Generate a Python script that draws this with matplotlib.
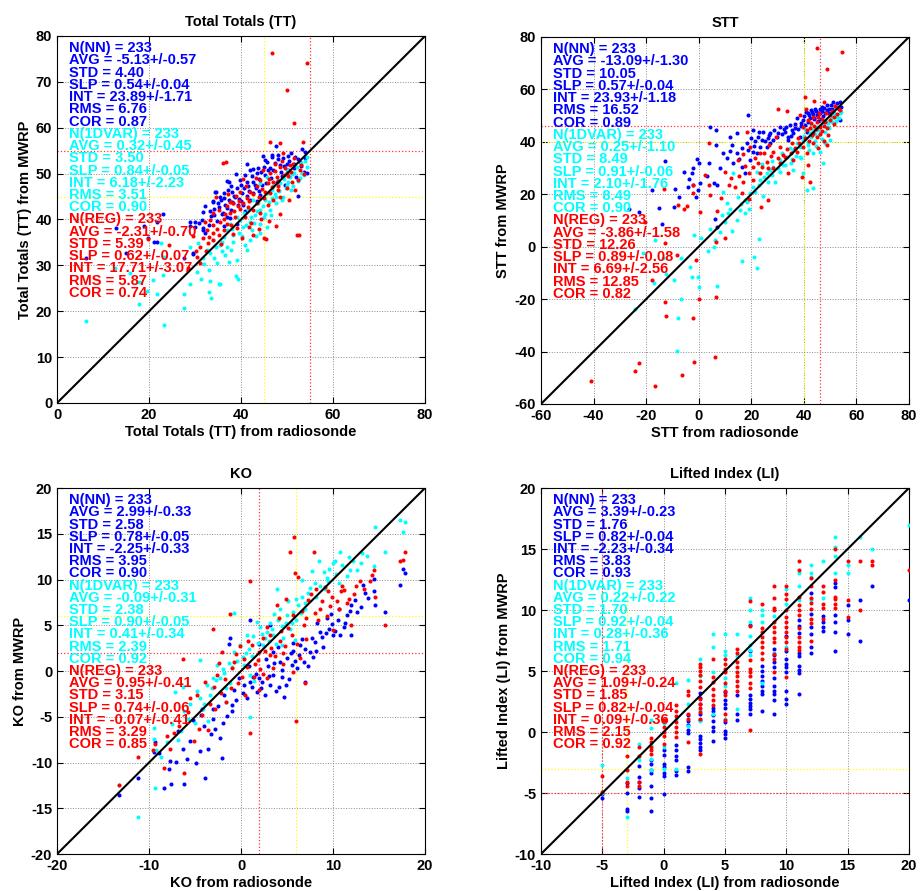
import matplotlib
matplotlib.use('Agg')
import matplotlib.pyplot as plt

plt.rcParams['font.family'] = ['Liberation Sans', 'DejaVu Sans']
plt.rcParams['font.weight'] = 'bold'
plt.rcParams['axes.unicode_minus'] = False

BLUE = (0, 0, 1)
CYAN = (0, 1, 1)
RED = (1, 0, 0)

# ---------------- Total Totals (TT) ----------------
tt_nn = [(6.3, 31.5), (12.9, 38.1), (15.0, 32.6), (18.9, 38.5), (19.7, 36.0), (21.0, 35.2), (21.7, 35.0),
         (21.7, 39.4), (23.1, 41.2), (27.5, 31.5), (29.5, 32.6), (29.6, 32.5), (28.8, 38.5), (29.9, 39.4),
         (29.9, 38.4), (30.9, 39.2), (31.8, 37.8), (31.8, 41.6), (32.2, 42.9), (34.0, 44.1), (34.3, 45.9),
         (37.0, 48.3), (38.8, 50.0), (42.7, 50.9), (47.5, 56.1), (44.8, 53.8), (46.7, 54.0), (53.3, 55.4),
         (54.3, 50.1), (52.3, 45.2), (28.8, 39.5), (31.8, 38.1), (31.6, 39.9), (33.9, 43.9), (34.5, 46.1),
         (37.3, 48.2), (36.2, 44.6), (38.0, 46.1), (39.1, 46.8), (39.8, 48.6), (40.9, 49.7), (42.0, 50.8),
         (43.4, 50.1), (45.6, 52.6), (46.7, 53.7), (48.1, 54.1), (49.2, 53.3), (49.9, 52.2), (51.7, 53.7),
         (52.8, 52.6), (53.9, 54.8), (53.6, 50.4), (36.9, 42.4), (38.3, 43.5), (40.5, 43.2), (42.0, 44.2),
         (44.2, 45.3), (37.3, 44.3), (35.4, 45.0), (35.1, 42.8), (36.5, 43.2), (42.7, 48.2), (41.2, 52.2),
         (44.9, 51.5), (47.0, 50.8), (36.9, 40.6), (39.1, 39.1), (32.2, 37.0), (38.5, 45.2), (39.5, 44.5),
         (40.2, 45.8), (41.5, 47.2), (43.8, 48.9), (45.2, 49.6), (46.2, 51.2), (48.5, 51.8), (50.5, 52.8),
         (51.5, 51.2), (35.8, 41.2), (37.8, 42.1), (40.8, 41.8), (41.8, 46.3), (43.2, 46.8), (48.8, 49.5),
         (50.2, 50.8), (33.5, 40.8), (34.8, 39.6), (36.2, 38.6), (44.5, 47.6), (47.8, 48.1), (49.5, 47.5),
         (52.0, 49.3), (33.2, 41.8), (34.1, 42.3), (35.0, 43.6), (35.7, 44.2), (36.4, 45.7), (37.1, 46.5),
         (37.8, 47.3), (38.6, 44.9), (39.3, 43.1), (40.0, 44.0), (40.7, 46.9), (41.4, 48.1), (42.3, 49.4),
         (43.0, 47.5), (43.7, 51.2), (44.4, 50.3), (45.1, 52.9), (45.8, 50.7), (46.5, 49.0), (47.3, 52.4),
         (48.0, 53.2), (48.7, 50.4), (49.4, 51.7), (50.1, 53.8), (50.8, 54.6), (51.6, 52.0), (52.4, 53.1),
         (53.1, 51.7), (53.8, 53.3), (38.0, 43.8), (39.9, 47.5), (41.2, 45.1), (42.6, 45.7), (44.0, 46.2),
         (45.4, 48.0), (36.0, 41.5), (34.2, 40.9), (33.0, 38.9), (37.5, 40.3), (43.5, 44.1)]
tt_1dvar = [(6.3, 17.8), (23.3, 16.9), (17.9, 21.6), (27.5, 20.7), (27.5, 23.8), (33.4, 22.9), (33.1, 24.1),
            (33.2, 26.7), (35.3, 26.0), (39.3, 27.0), (21.7, 23.8), (19.6, 24.5), (20.8, 26.8), (17.9, 26.4),
            (15.9, 28.3), (12.7, 29.4), (22.7, 34.8), (28.8, 34.1), (23.2, 31.9), (23.0, 27.9), (35.4, 25.9),
            (38.9, 27.6), (30.4, 28.6), (33.0, 29.0), (34.7, 30.5), (37.3, 30.8), (39.1, 31.2), (41.2, 33.3),
            (35.8, 33.1), (32.5, 33.4), (30.7, 34.8), (41.9, 35.6), (44.1, 37.0), (45.6, 38.4), (46.3, 42.1),
            (47.7, 43.5), (49.2, 45.0), (51.4, 47.2), (52.8, 49.0), (54.3, 51.5), (54.3, 53.7), (50.7, 49.3),
            (44.1, 42.1), (40.5, 38.4), (38.3, 36.6), (35.4, 34.5), (33.9, 35.6), (36.9, 37.7), (39.8, 39.9),
            (42.7, 44.2), (45.6, 45.7), (47.0, 47.2), (48.5, 47.9), (49.9, 50.8), (52.1, 51.5), (44.1, 47.9),
            (45.6, 49.3), (41.6, 42.1), (39.1, 40.6), (37.6, 39.1), (44.1, 39.1), (41.9, 39.5), (33.3, 32.6),
            (31.8, 31.6), (43.0, 41.0), (46.8, 44.6), (48.2, 46.3), (50.3, 48.1), (53.2, 50.2), (42.3, 37.8),
            (38.2, 35.2), (36.4, 36.1), (45.1, 44.2), (47.3, 45.6), (49.8, 46.8), (51.1, 49.9), (40.6, 41.4),
            (43.6, 43.7), (34.5, 33.9), (35.9, 35.1), (37.0, 34.0), (38.0, 37.9), (39.6, 37.1), (40.2, 36.3),
            (41.0, 38.8), (42.1, 40.6), (42.8, 39.2), (43.4, 41.8), (44.7, 43.0), (45.3, 41.3), (46.0, 43.9),
            (46.7, 46.4), (47.5, 44.9), (48.0, 48.6), (48.8, 44.3), (49.4, 48.9), (50.0, 47.6), (50.9, 46.5),
            (51.6, 50.2), (52.4, 48.3), (53.0, 52.3), (53.7, 49.6), (54.0, 52.7), (36.6, 32.3), (34.1, 31.5),
            (32.0, 30.2), (31.2, 27.1), (29.0, 26.0), (37.9, 33.4), (40.9, 34.5), (43.2, 36.4), (45.0, 40.5),
            (46.5, 40.9)]
tt_reg = [(46.8, 76.2), (54.3, 74.1), (50.0, 68.3), (51.6, 61.0), (53.5, 57.0), (46.3, 57.0), (48.5, 56.7),
          (36.7, 52.5), (52.5, 36.7), (47.5, 38.6), (45.0, 36.0), (24.4, 34.5), (19.7, 35.8), (31.1, 30.5),
          (36.0, 52.4), (52.1, 36.6), (45.4, 35.8), (39.1, 38.2), (33.9, 37.0), (31.8, 35.9), (33.3, 39.9),
          (33.9, 41.4), (35.1, 42.1), (37.6, 41.4), (39.4, 42.9), (41.2, 44.6), (41.9, 46.1), (44.1, 48.6),
          (46.3, 50.1), (47.4, 52.2), (48.5, 51.5), (49.9, 50.1), (51.0, 48.2), (51.7, 46.4), (48.1, 47.2),
          (46.3, 45.7), (44.9, 44.6), (43.4, 43.5), (47.0, 44.3), (48.1, 46.4), (39.8, 46.1), (40.9, 40.6),
          (42.7, 42.1), (44.1, 41.4), (45.9, 43.2), (36.2, 37.7), (32.6, 37.7), (32.2, 39.5), (32.9, 34.8),
          (31.1, 34.1), (35.1, 36.6), (33.9, 38.8), (38.3, 43.5), (38.7, 40.6), (42.7, 36.6), (40.1, 35.9),
          (36.9, 39.1), (51.4, 52.2), (49.2, 54.4), (52.8, 50.8), (49.9, 46.8), (48.5, 45.0), (28.5, 29.5),
          (30.2, 33.2), (34.5, 44.8), (37.2, 45.6), (40.5, 48.8), (43.5, 47.3), (45.8, 47.9), (47.8, 49.3),
          (50.6, 51.8), (41.5, 42.7), (39.6, 44.1), (36.5, 41.1), (44.8, 50.8), (46.9, 48.1), (49.3, 49.8),
          (42.2, 39.3), (43.9, 37.9), (38.2, 36.8), (33.0, 36.2), (34.0, 35.5), (34.8, 38.0), (35.5, 39.5),
          (36.3, 40.2), (37.0, 42.9), (37.7, 43.8), (38.4, 41.9), (39.0, 45.2), (39.7, 42.3), (40.4, 43.6),
          (41.1, 47.4), (41.8, 44.0), (42.5, 45.5), (43.2, 49.1), (43.9, 44.8), (44.6, 46.7), (45.3, 46.0),
          (46.0, 48.8), (46.7, 47.1), (47.4, 50.5), (48.1, 48.4), (48.8, 52.8), (49.5, 51.3), (50.2, 49.4),
          (50.9, 50.4), (51.6, 53.4), (52.3, 48.7), (53.0, 51.9), (53.7, 49.9), (44.4, 40.1), (46.0, 39.7),
          (48.5, 41.2), (50.4, 44.3), (41.7, 38.3), (37.9, 38.7), (35.7, 34.6), (32.4, 33.2), (30.5, 31.9),
          (29.6, 36.4)]

# ---------------- STT ----------------
stt_nn = [(-26.4, 14.4), (-22.6, 13.4), (-14.1, 8.5), (-15.0, 14.6), (-12.7, 32.7), (-9.3, 15.3), (-7.5, 19.1),
          (-8.9, 21.9), (-5.6, 28.6), (-2.3, 29.9), (-0.5, 33.3), (0.2, 31.8), (-2.6, 28.0), (-2.0, 23.5),
          (-0.4, 21.6), (0.5, 24.2), (-1.2, 19.1), (4.3, 45.5), (6.6, 44.5), (6.6, 38.8), (5.8, 24.2),
          (6.8, 23.5), (6.2, 10.6), (6.8, 7.6), (4.0, 31.8), (9.4, 35.6), (10.6, 33.7), (11.9, 42.0),
          (14.4, 43.3), (18.9, 50.3), (18.2, 39.4), (20.8, 44.5), (22.7, 42.0), (23.3, 38.2), (27.1, 43.3),
          (28.4, 40.7), (30.9, 45.8), (32.8, 43.9), (34.7, 46.4), (36.0, 43.3), (37.3, 49.0), (39.8, 48.3),
          (41.7, 50.9), (43.0, 51.5), (44.9, 50.3), (46.8, 53.4), (48.7, 52.2), (51.2, 55.3), (53.7, 55.3),
          (53.7, 48.3), (41.1, 43.9), (38.5, 42.0), (34.1, 40.7), (29.7, 42.0), (25.8, 38.2), (22.0, 35.6),
          (19.5, 33.1), (16.3, 30.5), (14.4, 35.6), (17.6, 28.0), (13.2, 31.8), (20.8, 36.3), (23.9, 40.7),
          (27.1, 39.4), (42.2, 49.2), (43.8, 48.6), (45.5, 47.8), (47.2, 49.8), (49.5, 50.9), (50.8, 52.6),
          (44.1, 52.4), (46.1, 51.1), (40.5, 46.5), (38.9, 45.9), (36.8, 46.9), (35.4, 44.6), (33.2, 45.7),
          (31.7, 42.8), (26.2, 41.5), (24.5, 43.6), (21.5, 40.5), (19.8, 41.6), (16.5, 37.8), (12.6, 38.9),
          (-17.8, 21.5), (-4.2, 22.6), (40.2, 49.8), (41.0, 51.3), (41.5, 47.5), (42.0, 50.1), (42.8, 52.0),
          (43.5, 50.6), (44.0, 49.2), (44.6, 51.8), (45.3, 50.9), (46.0, 52.6), (46.5, 48.6), (47.0, 51.7),
          (47.6, 53.0), (48.2, 51.0), (48.9, 53.9), (49.6, 52.7), (50.3, 54.2), (51.0, 51.5), (51.8, 53.6),
          (52.5, 54.7), (53.2, 52.4), (54.0, 53.3), (39.0, 47.1), (37.8, 44.8), (36.5, 45.3), (35.0, 42.2),
          (33.8, 41.8), (32.3, 44.9), (30.3, 43.5), (28.8, 44.6), (26.8, 42.5), (25.2, 40.3), (23.0, 43.9),
          (21.0, 38.6), (18.8, 36.8), (15.5, 33.6), (12.0, 36.4), (8.0, 30.0), (3.0, 27.0), (-3.5, 26.0)]
stt_1dvar = [(-24.2, -23.9), (-8.1, -39.7), (-7.8, -27.3), (-6.9, -19.9), (-12.6, -10.4), (-9.4, -12.7),
             (-2.4, -11.7), (-0.1, -11.7), (0.2, -15.5), (7.1, -14.9), (16.6, -5.3), (21.2, -4.1), (22.0, -8.3),
             (23.1, 2.8), (5.9, -0.2), (6.3, 2.6), (4.3, 6.9), (-1.8, 4.5), (-6.9, -4.2), (-3.3, -7.6),
             (-16.6, 2.6), (-21.3, -2.5), (10.0, 9.6), (11.3, 12.7), (14.4, 10.2), (15.7, 14.0), (17.6, 17.8),
             (19.5, 20.4), (20.8, 22.9), (23.3, 25.4), (25.8, 28.0), (28.4, 30.5), (30.9, 33.1), (33.5, 34.3),
             (36.0, 36.9), (37.3, 39.4), (39.8, 40.7), (42.3, 43.3), (44.9, 44.5), (48.7, 45.8), (51.2, 49.6),
             (53.7, 50.9), (47.4, 31.8), (43.6, 22.3), (41.1, 21.6), (39.8, 28.0), (36.0, 29.3), (30.9, 28.6),
             (27.1, 29.3), (22.0, 28.6), (13.2, 28.0), (15.1, 19.1), (10.6, 16.6), (9.4, 21.0), (17.6, 12.7),
             (46.1, 36.3), (50.0, 40.7), (43.6, 35.6), (26.5, 24.8), (-17.0, -13.8), (-13.5, -4.5), (0.8, 3.5),
             (3.6, -1.5), (8.2, 5.5), (12.5, 5.8), (19.2, 14.5), (24.6, 19.2), (29.2, 24.5), (32.1, 31.2),
             (34.8, 37.6), (38.4, 34.2), (41.6, 38.9), (44.2, 40.3), (45.8, 42.6), (47.9, 43.8), (49.6, 45.1),
             (52.3, 47.9), (40.6, 44.8), (42.9, 46.8), (35.1, 31.8), (31.6, 35.9), (27.9, 32.8), (24.1, 31.6),
             (38.5, 38.0), (40.2, 42.2), (41.4, 40.0), (42.7, 41.8), (43.3, 44.6), (44.3, 43.1), (45.1, 45.6),
             (46.3, 44.2), (47.0, 46.7), (47.8, 47.6), (48.5, 48.3), (49.2, 47.0), (50.2, 49.0), (50.8, 47.5),
             (51.7, 50.5), (52.6, 49.4), (53.5, 49.2), (54.1, 51.2), (36.9, 34.5), (35.5, 33.3), (33.0, 31.0),
             (30.0, 30.1), (28.0, 27.5), (25.0, 26.5), (22.8, 23.7), (21.5, 20.8), (18.5, 17.0), (16.0, 16.4),
             (12.0, 14.5), (8.8, 12.0), (44.8, 38.5), (42.0, 36.8), (38.9, 33.9), (46.8, 41.2), (48.2, 39.7)]
stt_reg = [(44.9, 75.9), (54.4, 74.2), (48.7, 67.7), (40.4, 57.2), (44.0, 55.7), (47.8, 55.3), (30.0, 52.5),
           (33.5, 51.8), (18.2, 43.9), (4.0, 39.4), (-13.2, 22.0), (-7.8, 16.0), (-5.6, 14.3), (-2.3, 23.5),
           (0.5, 13.1), (4.0, 23.5), (4.3, 19.7), (6.8, 13.8), (6.6, 1.8), (10.0, 3.4), (10.0, 28.6),
           (11.6, 23.5), (13.8, 22.7), (16.3, 20.4), (19.3, 18.1), (23.7, 15.3), (26.5, 17.8), (-2.0, 20.6),
           (-1.2, -5.1), (-17.6, -12.7), (-12.9, -21.0), (-12.6, -26.4), (-2.3, -27.3), (0.1, -19.8),
           (6.6, -19.3), (-1.8, -43.9), (6.2, -41.9), (-6.5, -48.9), (-16.6, -53.0), (-22.6, -44.2),
           (-24.2, -47.4), (-41.0, -51.2), (-20.4, 9.6), (-12.8, 1.3), (-8.4, -3.2), (19.5, 38.2), (23.3, 35.6),
           (23.9, 30.5), (25.8, 32.4), (28.4, 36.3), (30.9, 38.2), (32.8, 34.3), (34.1, 28.0), (36.0, 33.1),
           (37.3, 36.3), (39.8, 38.2), (41.1, 35.6), (43.6, 39.4), (44.9, 42.0), (46.1, 45.8), (48.0, 47.7),
           (50.0, 50.2), (53.1, 52.8), (48.7, 38.8), (43.6, 43.3), (39.8, 45.8), (41.7, 48.3), (43.6, 49.6),
           (38.5, 50.2), (23.3, 28.0), (20.8, 30.5), (20.8, 25.4), (17.0, 24.8), (30.9, 31.8), (28.4, 29.9),
           (39.2, 26.7), (42.3, 24.8), (41.7, 31.2), (14.8, 33.2), (16.9, 35.5), (21.5, 33.8), (26.9, 38.9),
           (29.5, 41.8), (35.5, 39.7), (37.9, 41.5), (42.5, 45.2), (45.2, 47.6), (47.1, 44.1), (49.2, 42.6),
           (51.5, 46.9), (40.8, 52.6), (45.6, 50.9), (-4.5, 15.5), (2.5, 27.5), (8.5, 18.5), (40.5, 41.6),
           (41.3, 44.4), (42.0, 40.4), (42.8, 47.0), (43.2, 42.6), (44.0, 46.1), (44.6, 44.8), (45.5, 49.3),
           (46.2, 43.1), (46.9, 48.9), (47.5, 46.2), (48.3, 50.9), (49.0, 45.4), (49.8, 48.4), (50.6, 51.6),
           (51.3, 49.3), (52.0, 53.5), (52.8, 50.7), (53.6, 52.1), (38.0, 39.6), (36.6, 37.5), (35.0, 35.8),
           (33.6, 37.4), (31.9, 35.1), (30.0, 33.8), (27.4, 34.6), (26.2, 30.2), (24.8, 35.7), (22.4, 31.9),
           (19.0, 28.2), (17.8, 30.6), (15.3, 27.1), (12.4, 26.3), (45.3, 37.8), (47.7, 40.5)]

# ---------------- KO ----------------
ko_nn = [(-13.3, -13.6), (-11.2, -11.7), (-9.3, -7.8), (-9.5, -8.8), (-7.8, -10.7), (-7.7, -9.8), (-7.1, -9.9),
         (-7.6, -12.3), (-8.4, -12.8), (-6.2, -12.3), (-6.3, -8.5), (-5.5, -7.7), (-4.5, -8.7), (-3.9, -11.7),
         (-3.6, -8.5), (-2.1, -9.5), (-2.3, -7.3), (-4.2, -4.1), (-4.4, -4.8), (-3.0, -4.1), (-2.0, -5.7),
         (-1.0, -4.4), (-1.0, -3.7), (-0.5, -3.2), (-1.2, 3.6), (-1.3, 2.9), (1.0, 5.6), (0.3, -1.5),
         (1.2, -1.7), (1.7, -2.3), (2.2, -1.9), (2.6, -2.6), (3.2, -1.5), (3.5, -0.4), (4.1, -1.7), (4.7, -2.8),
         (3.5, 2.1), (4.2, 1.0), (5.0, 1.4), (5.5, 0.7), (5.7, 2.2), (6.4, 2.8), (6.8, 1.0), (7.0, -1.2),
         (7.5, 2.1), (8.0, 3.2), (8.6, 4.3), (9.3, 5.8), (9.9, 5.1), (10.0, 3.9), (10.8, 3.9), (11.5, 6.1),
         (12.0, 3.9), (12.0, 7.2), (12.6, 6.5), (13.3, 9.4), (13.5, 8.5), (14.4, 8.7), (14.6, 7.2), (15.7, 6.5),
         (17.3, 9.4), (17.6, 11.2), (17.8, 10.7), (3.1, 5.0), (2.0, 3.0), (1.3, -0.7), (2.9, 0.6), (4.5, -0.6),
         (6.1, 0.3), (7.8, 1.5), (8.9, 2.6), (9.6, 4.6), (10.5, 5.6), (11.2, 4.8), (-2.8, -6.3), (-1.5, -4.9),
         (0.2, -2.4), (1.9, -0.8), (3.8, -2.2), (5.2, -0.9), (6.6, 3.5), (8.3, 5.2), (-5.2, -5.4), (-3.3, -6.9),
         (-4.0, -6.0), (-3.0, -5.2), (-2.5, -3.8), (-1.8, -2.6), (-0.8, -2.1), (-0.2, -0.8), (0.6, -2.9),
         (1.0, -1.2), (1.6, -0.3), (2.3, -1.2), (2.7, 1.3), (3.0, -0.5), (3.6, 0.9), (4.0, 2.6), (4.4, 0.1),
         (4.9, -1.5), (5.4, 2.0), (5.9, 1.1), (6.3, 1.8), (6.9, 2.4), (7.3, 0.5), (7.7, 3.6), (8.2, 2.2),
         (8.8, 3.7), (9.2, 4.1), (9.8, 6.2), (10.2, 4.4), (10.7, 6.8), (11.3, 5.3), (11.8, 6.6), (12.4, 7.8),
         (13.0, 7.0), (13.8, 8.0), (14.5, 10.1), (-6.8, -6.6), (-5.9, -9.6), (-8.9, -9.0), (-4.9, -10.1),
         (0.9, 0.6), (5.6, 3.1)]
ko_1dvar = [(-13.3, -12.5), (-11.2, -15.9), (-9.5, -7.4), (-9.5, -6.2), (-9.3, -12.8), (-9.2, -8.6), (-7.2, -2.3),
            (-6.3, -1.7), (-6.2, -4.4), (-4.5, 1.2), (-4.1, -4.1), (-3.6, -5.5), (-3.0, -0.8), (-2.6, 0.7),
            (-2.3, -2.3), (-1.6, -1.9), (-1.2, -1.3), (-0.8, 6.3), (-0.1, 2.8), (0.3, 0.7), (1.0, -0.4),
            (1.0, -5.0), (1.3, 3.8), (1.7, 5.4), (2.4, 2.8), (2.8, 4.3), (3.2, 5.2), (3.9, 9.0), (4.2, 6.8),
            (4.4, 2.8), (5.1, 7.6), (5.7, 6.5), (6.2, 7.2), (6.6, 8.1), (7.3, 8.5), (7.7, 10.9), (8.5, 12.0),
            (9.1, 9.0), (9.5, 9.8), (10.0, 11.8), (10.6, 9.6), (10.8, 13.0), (11.7, 12.5), (11.8, 11.0),
            (12.6, 11.0), (13.1, 12.9), (14.4, 11.5), (14.6, 15.7), (15.7, 13.0), (17.3, 16.5), (17.6, 15.2),
            (17.8, 16.3), (4.6, 3.6), (3.5, 3.9), (2.1, 4.8), (0.6, 3.9), (-0.8, 2.1), (-2.3, -0.8), (-3.7, -1.5),
            (-4.5, -3.0), (-3.4, -2.6), (-1.6, -3.4), (-5.0, -5.7), (6.6, 9.9), (5.9, 3.4), (-5.8, -5.2),
            (-7.5, -5.8), (-4.8, -2.2), (-2.0, 0.2), (0.9, 2.4), (2.6, 3.6), (3.6, 6.2), (4.9, 5.3), (6.0, 5.6),
            (7.0, 6.8), (8.1, 8.1), (9.3, 10.2), (10.3, 10.6), (-1.3, 0.9), (0.2, 1.5), (5.3, 4.6), (-8.7, -9.4),
            (-6.8, -7.5), (-4.0, -3.6), (-3.2, -1.9), (-2.7, -1.0), (-1.9, -0.2), (-1.0, 0.4), (-0.4, 1.1),
            (0.5, 2.0), (1.2, 1.6), (1.8, 3.1), (2.3, 4.0), (3.0, 3.3), (3.4, 4.6), (4.0, 5.6), (4.5, 4.9),
            (5.0, 6.1), (5.5, 5.3), (6.0, 7.9), (6.5, 6.3), (7.0, 7.4), (7.5, 9.1), (8.0, 9.6), (8.6, 9.3),
            (9.0, 10.8), (9.6, 11.2), (10.2, 12.0), (11.0, 11.6), (11.5, 10.4), (12.2, 12.0), (13.0, 11.8),
            (13.7, 12.6), (-5.6, -3.6), (-6.5, -6.6), (-8.0, -7.8), (1.4, -1.1), (3.8, 3.0)]
ko_reg = [(-13.3, -12.5), (-11.2, -9.4), (-9.3, -8.0), (-8.4, -10.6), (-7.7, -8.5), (-6.2, -11.2), (-7.3, -6.8),
          (-6.3, 1.3), (-5.5, -3.0), (-4.6, -6.3), (-3.6, -6.4), (-3.1, 4.6), (-2.8, -4.1), (-2.6, -0.4),
          (-2.1, 2.1), (-1.6, -3.4), (-1.2, 6.2), (-0.8, 1.0), (-0.5, 1.9), (-0.1, 2.7), (1.0, 9.8), (1.0, -6.8),
          (1.2, 2.8), (1.5, 0.8), (2.0, 2.1), (2.4, 3.6), (2.8, 4.8), (3.3, 2.5), (3.9, 7.2), (4.2, 3.3),
          (4.8, 2.7), (4.9, 7.9), (5.3, 13.0), (5.8, 14.6), (5.9, 10.7), (6.0, -5.5), (6.2, 10.3), (6.8, 5.0),
          (6.9, -1.3), (7.3, 7.8), (7.9, 13.0), (8.2, 9.0), (8.6, 6.8), (9.1, 9.2), (9.5, 8.7), (10.0, 4.5),
          (10.6, 6.8), (10.9, 8.7), (11.5, 7.4), (12.0, 5.0), (12.9, 9.8), (14.0, 9.8), (14.4, 11.0),
          (14.6, 8.1), (15.7, 5.0), (17.3, 12.0), (17.6, 12.1), (17.8, 13.0), (1.9, -2.1), (2.8, -0.8),
          (3.5, 0.3), (4.6, 0.8), (5.7, -0.1), (6.4, 1.4), (0.4, -2.6), (-4.8, -2.6), (-3.9, -1.2), (-1.1, -1.9),
          (0.6, 0.4), (1.8, 1.2), (3.1, 1.8), (4.3, 4.4), (5.5, 3.9), (7.1, 3.5), (8.4, 5.6), (9.7, 7.1),
          (11.2, 8.9), (12.3, 8.4), (-5.8, -4.5), (-2.2, -2.4), (0.1, -0.6), (2.4, -0.3), (-9.6, -8.6),
          (-4.2, -4.8), (-3.4, -3.6), (-2.9, -1.8), (-2.4, 0.9), (-1.7, -0.9), (-1.0, 0.3), (-0.3, -1.3),
          (0.3, 1.3), (0.8, 3.3), (1.4, -0.7), (2.1, 0.2), (2.6, 2.2), (3.2, 3.9), (3.7, 1.6), (4.1, 5.8),
          (4.6, 2.0), (5.1, 4.7), (5.6, 6.1), (6.1, 3.0), (6.6, 6.6), (7.1, 5.8), (7.6, 8.4), (8.0, 6.3),
          (8.8, 7.7), (9.3, 6.0), (9.9, 8.1), (10.4, 7.7), (11.0, 9.3), (11.7, 7.9), (12.5, 9.3), (13.4, 9.0),
          (14.2, 10.5), (-6.7, -6.0), (-8.1, -7.1), (-5.1, -7.6)]

# ---------------- Lifted Index (LI): radiosonde value -> MWRP values ----------------
li_nn = {-5: [-5.1, -5.4], -3: [-4.2, -5.0, -6.3, -6.5], -2: [-2.8, -3.7, -4.1, -4.6, -5.3],
         -1: [-2.3, -2.6, -3.1, -3.4, -4.4, -5.4, -6.5], 0: [-1.5, -1.9, -2.6, -2.9, -3.4, -3.6, -5.1],
         1: [-1.1, -1.5, -2.0, -2.3, -3.2, -3.55], 2: [1.4, 0.9, 0.6, 0.2, -0.1, -2.9, -3.2],
         3: [3.2, 2.8, 2.3, 1.5, 1.0, -0.3, -0.6, -0.9, -1.2, -1.5], 4: [2.0, 1.7, 1.4, 0.9, 0.4, 0.1, -0.7],
         5: [3.3, 2.6, 2.3, 2.0, 0.8, 0.1, -0.2, -0.5], 6: [3.0, 1.5, 1.0],
         7: [8.8, 6.6, 3.0, 2.7, 2.4, 2.1, 1.9, 1.5], 8: [5.4, 5.0, 4.6, 4.2, 3.8, 3.4, 3.1, 1.7],
         9: [6.8, 6.3, 5.7, 5.3, 4.4, 3.8, 3.4, 3.1, 2.6, 1.5], 10: [7.9, 6.6, 6.0, 5.6, 5.3, 4.9, 3.4, 2.7, 2.3],
         11: [9.2, 8.7, 8.1, 6.5, 6.2, 5.4, 5.1, 4.8, 3.1], 12: [11.4, 9.7, 8.6, 8.0, 7.0, 6.5],
         13: [9.5, 9.0, 8.6, 8.3], 14: [12.2, 11.9, 9.6, 9.0, 8.2, 6.6], 15: [10.4, 9.2, 8.0],
         16: [10.8, 7.5], 17: [12.0], 20: [10.8]}
li_1dvar = {-5: [-2.7, -5.0], -3: [-3.1, -3.8, -7.0], -2: [-1.0, -2.3], -1: [1.0, 0.3, -1.1, -2.2, -3.1],
            0: [0.7, -1.2, -3.0], 1: [4.0, 1.1, -3.0], 2: [4.3, 2.3, 0.5], 3: [6.0, 4.6, 1.8, 0.9],
            4: [8.0, 7.0, 4.9, 1.5], 5: [8.0, 6.6, 6.3, 4.4, 3.8, 1.1], 6: [8.0, 6.2, 1.9],
            7: [11.0, 10.0, 9.0, 7.9, 7.1, 6.7, 6.3], 8: [10.0, 9.6, 9.0, 4.0], 9: [9.5, 6.5],
            10: [11.7, 10.5, 7.0], 11: [13.0, 12.0, 10.8], 12: [13.7, 13.0, 12.7, 10.8], 13: [14.0, 11.0],
            14: [16.0, 15.2, 14.4, 13.0], 15: [13.7, 13.0], 16: [16.0], 17: [15.0], 20: [17.0]}
li_reg = {-5: [-3.6, -4.9], -3: [-2.0, -3.1, -4.1, -4.4], -2: [-1.2, -2.0, -4.1, -4.4],
          -1: [-0.5, -0.8, -1.2, -1.5, -1.8], 0: [1.0, 0.4, 0.0, -0.3, -1.0],
          1: [2.2, 1.7, 1.3, 0.8, 0.4, 0.0, -0.4], 2: [3.4, 3.0, 1.5, 1.1, -0.8],
          3: [5.6, 5.3, 5.0, 4.7, 4.2, 3.7, 2.7, 2.3, 2.0, 1.6, 1.1, -1.8], 4: [6.0, 4.5, 4.1, 3.5, 3.0, 2.6, 2.2],
          5: [6.0, 5.6, 5.2, 4.9, 4.0, 3.4, 3.0, 1.5, 1.0], 6: [6.8, 6.5, 5.7, 5.3, 4.9, 4.6, 4.2, 3.8, 3.4],
          7: [10.7, 8.7, 5.9, 5.2, 4.9, 4.6, 4.0, 3.6, 0.2], 8: [10.5, 8.5, 8.2, 7.8, 7.4, 7.0, 6.5, 6.0],
          9: [12.0, 11.0, 10.2, 10.0, 9.0, 8.6, 8.2, 7.7, 7.4, 6.4, 6.0, 4.9],
          10: [12.0, 11.3, 10.9, 10.0, 9.4, 9.0, 8.6, 8.2, 7.8, 7.4, 6.8, 4.5],
          11: [14.0, 13.3, 11.1, 10.4, 10.0, 9.6, 8.5, 7.8, 7.4, 7.0, 6.7],
          12: [12.6, 12.0, 11.0, 10.6, 10.1, 9.3, 8.9, 7.5], 13: [12.0, 11.5, 10.5, 10.2, 9.3],
          14: [15.0, 12.5, 11.1, 10.9, 10.5, 10.2], 15: [14.0, 10.8, 9.4], 16: [14.0, 10.0], 17: [14.0, 13.7],
          20: [13.3]}

# ---------------- statistics text ----------------
tt_stats = [["N(NN) = 233", "AVG = -5.13+/-0.57", "STD = 4.40", "SLP = 0.54+/-0.04",
             "INT = 23.89+/-1.71", "RMS = 6.76", "COR = 0.87"],
            ["N(1DVAR) = 233", "AVG = 0.32+/-0.45", "STD = 3.50", "SLP = 0.84+/-0.05",
             "INT = 6.18+/-2.23", "RMS = 3.51", "COR = 0.90"],
            ["N(REG) = 233", "AVG = -2.31+/-0.70", "STD = 5.39", "SLP = 0.62+/-0.07",
             "INT = 17.71+/-3.07", "RMS = 5.87", "COR = 0.74"]]
stt_stats = [["N(NN) = 233", "AVG = -13.09+/-1.30", "STD = 10.05", "SLP = 0.57+/-0.04",
              "INT = 23.93+/-1.18", "RMS = 16.52", "COR = 0.89"],
             ["N(1DVAR) = 233", "AVG = 0.25+/-1.10", "STD = 8.49", "SLP = 0.91+/-0.06",
              "INT = 2.10+/-1.76", "RMS = 8.49", "COR = 0.90"],
             ["N(REG) = 233", "AVG = -3.86+/-1.58", "STD = 12.26", "SLP = 0.89+/-0.08",
              "INT = 6.69+/-2.56", "RMS = 12.85", "COR = 0.82"]]
ko_stats = [["N(NN) = 233", "AVG = 2.99+/-0.33", "STD = 2.58", "SLP = 0.78+/-0.05",
             "INT = -2.25+/-0.33", "RMS = 3.95", "COR = 0.90"],
            ["N(1DVAR) = 233", "AVG = -0.09+/-0.31", "STD = 2.38", "SLP = 0.90+/-0.05",
             "INT = 0.41+/-0.34", "RMS = 2.39", "COR = 0.92"],
            ["N(REG) = 233", "AVG = 0.95+/-0.41", "STD = 3.15", "SLP = 0.74+/-0.06",
             "INT = -0.07+/-0.41", "RMS = 3.29", "COR = 0.85"]]
li_stats = [["N(NN) = 233", "AVG = 3.39+/-0.23", "STD = 1.76", "SLP = 0.82+/-0.04",
             "INT = -2.23+/-0.34", "RMS = 3.83", "COR = 0.93"],
            ["N(1DVAR) = 233", "AVG = 0.22+/-0.22", "STD = 1.70", "SLP = 0.92+/-0.04",
             "INT = 0.28+/-0.36", "RMS = 1.71", "COR = 0.94"],
            ["N(REG) = 233", "AVG = 1.09+/-0.24", "STD = 1.85", "SLP = 0.82+/-0.04",
             "INT = 0.09+/-0.36", "RMS = 2.15", "COR = 0.92"]]


def expand(cols):
    xs, ys = [], []
    for x, vals in cols.items():
        xs += [x] * len(vals)
        ys += vals
    return list(zip(xs, ys))


def panel(ax, series, stats, lim, xticks, yticks, red_thr, yel_thr, title, xlabel, ylabel):
    ax.set_xlim(lim)
    ax.set_ylim(lim)
    ax.set_xticks(xticks)
    ax.set_yticks(yticks)
    ax.grid(True, linestyle=':', color='0.55', linewidth=0.7)
    ax.set_axisbelow(True)
    # threshold lines
    for thr, c in ((yel_thr, (1, 1, 0)), (red_thr, (1, 0.2, 0.2))):
        ax.axvline(thr, color=c, linestyle=':', linewidth=0.9, zorder=1)
        ax.axhline(thr, color=c, linestyle=':', linewidth=0.9, zorder=1)
    for pts, c in zip(series, (BLUE, CYAN, RED)):
        xs = [p[0] for p in pts]
        ys = [p[1] for p in pts]
        ax.scatter(xs, ys, s=8.5, color=c, linewidths=0, zorder=3)
    ax.plot(lim, lim, color='k', linewidth=1.5, zorder=4)
    i = 0
    for lines, c in zip(stats, (BLUE, CYAN, RED)):
        for s in lines:
            i += 1
            ax.text(0.033, 1 - i / 30.0, s, transform=ax.transAxes, color=c, fontsize=10.5,
                    fontweight='bold', va='center', ha='left', zorder=10)
    ax.set_title(title, fontsize=10.5, fontweight='bold', pad=7)
    ax.set_xlabel(xlabel, fontsize=10.5, fontweight='bold', labelpad=2)
    ax.set_ylabel(ylabel, fontsize=10.5, fontweight='bold', labelpad=3)
    ax.tick_params(direction='in', length=4, labelsize=10.5, top=True, right=True)
    for lab in ax.get_xticklabels() + ax.get_yticklabels():
        lab.set_fontweight('bold')
    for sp in ax.spines.values():
        sp.set_linewidth(0.8)


fig = plt.figure(figsize=(9.23, 8.91), dpi=100)
ax1 = fig.add_axes([0.0618, 0.5477, 0.3987, 0.4119])
ax2 = fig.add_axes([0.5861, 0.5466, 0.3987, 0.4119])
ax3 = fig.add_axes([0.0618, 0.0415, 0.3987, 0.4108])
ax4 = fig.add_axes([0.5861, 0.0415, 0.3987, 0.4108])

panel(ax1, [tt_nn, tt_1dvar, tt_reg], tt_stats, [0, 80], range(0, 81, 20), range(0, 81, 10),
      55, 45, 'Total Totals (TT)', 'Total Totals (TT) from radiosonde', 'Total Totals (TT) from MWRP')
panel(ax2, [stt_nn, stt_1dvar, stt_reg], stt_stats, [-60, 80], range(-60, 81, 20), range(-60, 81, 20),
      46, 40, 'STT', 'STT from radiosonde', 'STT from MWRP')
panel(ax3, [ko_nn, ko_1dvar, ko_reg], ko_stats, [-20, 20], range(-20, 21, 10), range(-20, 21, 5),
      2, 6, 'KO', 'KO from radiosonde', 'KO from MWRP')
panel(ax4, [expand(li_nn), expand(li_1dvar), expand(li_reg)], li_stats, [-10, 20], range(-10, 21, 5),
      range(-10, 21, 5), -5, -3, 'Lifted Index (LI)', 'Lifted Index (LI) from radiosonde',
      'Lifted Index (LI) from MWRP')

fig.savefig('out.png', dpi=100)
